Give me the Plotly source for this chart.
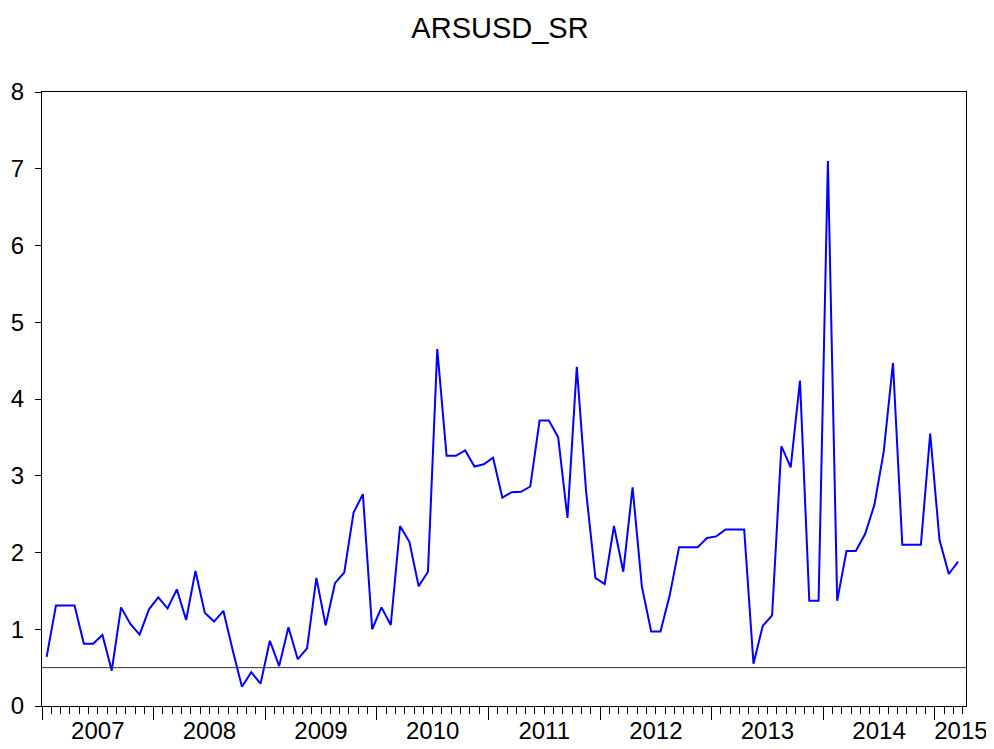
import plotly.graph_objects as go

# Monthly observations, 2007M01 .. 2015M03
start_year = 2007
values = [
    0.64, 1.31, 1.31, 1.31, 0.81, 0.81, 0.925, 0.46, 1.285, 1.07, 0.93, 1.26,   # 2007
    1.415, 1.27, 1.52, 1.12, 1.76, 1.215, 1.10, 1.24, 0.73, 0.25, 0.44, 0.29,   # 2008
    0.85, 0.52, 1.025, 0.61, 0.75, 1.67, 1.05, 1.60, 1.74, 2.52, 2.76, 1.00,    # 2009
    1.285, 1.055, 2.345, 2.14, 1.56, 1.75, 4.65, 3.26, 3.26, 3.33, 3.12, 3.15,  # 2010
    3.235, 2.715, 2.785, 2.79, 2.86, 3.72, 3.72, 3.50, 2.45, 4.42, 2.80, 1.67,  # 2011
    1.59, 2.345, 1.75, 2.85, 1.555, 0.97, 0.97, 1.445, 2.07, 2.07, 2.07, 2.19,  # 2012
    2.21, 2.30, 2.30, 2.30, 0.55, 1.045, 1.18, 3.385, 3.11, 4.24, 1.37, 1.37,   # 2013
    7.10, 1.37, 2.02, 2.02, 2.24, 2.62, 3.31, 4.47, 2.10, 2.10, 2.10, 3.55,     # 2014
    2.165, 1.72, 1.88,                                                          # 2015
]
periods = [f"{start_year + i // 12}M{i % 12 + 1:02d}" for i in range(len(values))]
year_labels = ["2007", "2008", "2009", "2010", "2011", "2012", "2013", "2014", "2015"]
ref_level = 0.5

n = len(values)
x = [i + 0.5 for i in range(n)]
x_max = n + 0.35
year_starts = [12 * k for k in range(len(year_labels))]
# full years: label centred in the year; the partial last year: label starts at the year tick
year_centers = [12 * k + 6 for k in range(len(year_labels) - 1)] + [12 * (len(year_labels) - 1) + 2.8]

FONT = "Liberation Sans, Arial, sans-serif"

# the page body has an 8px margin, so the figure is sized/offset to compensate
W, H = 984, 741

fig = go.Figure()
fig.add_trace(go.Scatter(
    x=[0, x_max], y=[ref_level, ref_level], mode="lines", xaxis="x2",
    line=dict(color="#333333", width=1), hoverinfo="skip", showlegend=False,
))
fig.add_trace(go.Scatter(
    x=x, y=values, mode="lines", text=periods,
    line=dict(color="#0000FF", width=2),
    hovertemplate="%{text}: %{y}<extra></extra>",
    showlegend=False,
))

fig.update_layout(
    width=W, height=H,
    margin=dict(l=34, r=W - 958, t=84, b=H - 698, autoexpand=False),
    paper_bgcolor="white", plot_bgcolor="white",
    title=dict(text="ARSUSD_SR", x=(500 - 8) / W, xanchor="center",
               y=1 - 20 / H, yanchor="middle", yref="container",
               font=dict(family=FONT, size=29, color="black")),
    font=dict(family=FONT, size=24, color="black"),
    xaxis=dict(
        range=[0, x_max], showgrid=False, zeroline=False, automargin=False,
        showline=True, linecolor="black", linewidth=1, mirror=True,
        tickmode="array", tickvals=year_starts, ticks="outside",
        ticklen=13, tickcolor="black", tickwidth=1, showticklabels=False,
        minor=dict(tickmode="array", tickvals=list(range(n + 1)),
                   ticks="outside", ticklen=7, tickcolor="black", tickwidth=1,
                   showgrid=False),
    ),
    xaxis2=dict(
        overlaying="x", matches="x", anchor="y", side="bottom",
        range=[0, x_max], showgrid=False, zeroline=False, showline=False,
        automargin=False,
        tickmode="array", tickvals=year_centers, ticktext=year_labels,
        ticks="", ticklabelstandoff=8,
        tickfont=dict(family=FONT, size=24, color="black"),
    ),
    yaxis=dict(
        range=[0, 8], dtick=1, showgrid=False, zeroline=False, automargin=False,
        showline=True, linecolor="black", linewidth=1, mirror=True,
        ticks="outside", ticklen=6, tickcolor="black",
        tickfont=dict(family=FONT, size=24, color="black"),
        ticklabelstandoff=6,
    ),
)

fig.write_html("out.html")
